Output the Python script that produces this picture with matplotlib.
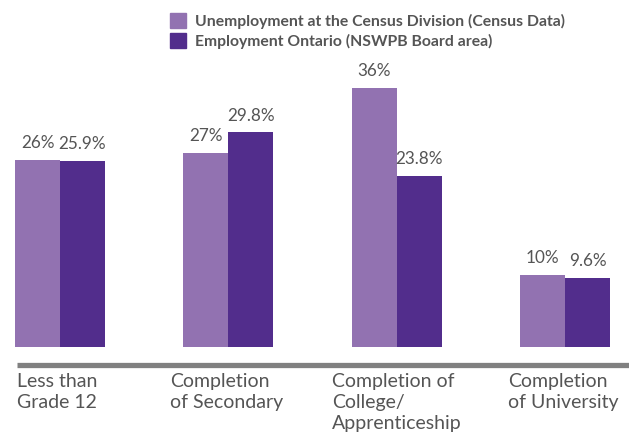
import matplotlib
matplotlib.use('Agg')
import matplotlib.pyplot as plt
import numpy as np

categories = ['Less than\nGrade 12', 'Completion\nof Secondary',
              'Completion of\nCollege/\nApprenticeship', 'Completion\nof University']
census = [26, 27, 36, 10]
eo = [25.9, 29.8, 23.8, 9.6]
census_labels = ['26%', '27%', '36%', '10%']
eo_labels = ['25.9%', '29.8%', '23.8%', '9.6%']
series_names = ['Unemployment at the Census Division (Census Data)',
                'Employment Ontario (NSWPB Board area)']

LIGHT = '#9272b1'
DARK = '#522d8c'
TEXT = '#555555'
W, H = 629, 438

plt.rcParams['font.family'] = ['Lato', 'DejaVu Sans']

fig = plt.figure(figsize=(W / 100, H / 100), dpi=100)

# axes placed in pixel terms: bars bottom at y=347, top of axes at y=60
bottom_px, top_px = 347, 60
ax = fig.add_axes([0, 1 - bottom_px / H, 1, (bottom_px - top_px) / H])
px_per_pct = 7.2
ax.set_ylim(0, (bottom_px - top_px) / px_per_pct)

unit = 168.3
bw = 45 / unit
x = np.arange(len(categories))
ax.set_xlim(-60 / unit, 3 + 64 / unit)
ax.axis('off')

b1 = ax.bar(x - bw / 2, census, bw, color=LIGHT)
b2 = ax.bar(x + bw / 2, eo, bw, color=DARK)

for rects, labels in [(b1, census_labels), (b2, eo_labels)]:
    for r, lab in zip(rects, labels):
        ax.text(r.get_x() + r.get_width() / 2, r.get_height() + 1.2, lab,
                ha='center', va='bottom', fontsize=12.3, color=TEXT)

# baseline
fig.add_artist(plt.Line2D([17 / W, 1], [1 - 364.5 / H] * 2, color='#808080',
                          lw=3.8, transform=fig.transFigure, solid_capstyle='butt'))

# category labels
label_x = [17, 170, 332, 508]
for lx, cat in zip(label_x, categories):
    fig.text(lx / W, 1 - 373 / H, cat, ha='left', va='top', fontsize=14,
             color=TEXT, linespacing=1.3)

# legend
for i, (name, col) in enumerate(zip(series_names, [LIGHT, DARK])):
    yc = 21 + i * 20
    fig.add_artist(plt.Rectangle((170 / W, 1 - (yc + 7) / H), 16 / W, 15 / H,
                                 color=col, transform=fig.transFigure))
    fig.text(195 / W, 1 - yc / H, name, ha='left', va='center', fontsize=11.3,
             fontweight='bold', color=TEXT)

fig.savefig('out.png', dpi=100, facecolor='white')
